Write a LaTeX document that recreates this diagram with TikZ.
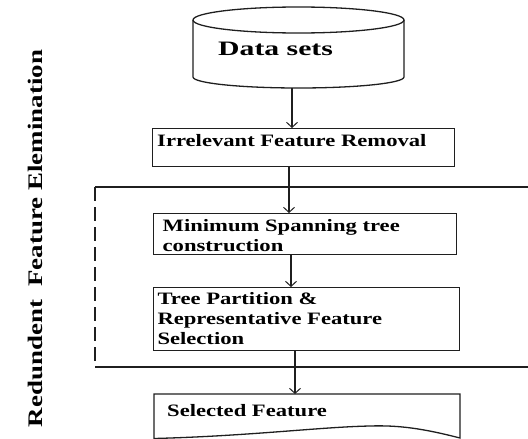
\documentclass[tikz,border=0pt]{standalone}
\usepackage{fontspec}
\usetikzlibrary{arrows.meta}
\newfontfamily\boxfont[FakeStretch=1.3]{Liberation Serif}
\newfontfamily\dbfont[FakeStretch=1.45]{Liberation Serif}
\tikzset{
  ln/.style={line width=1.3pt, draw=black!88},
  box/.style={ln, draw, rectangle, inner sep=0pt, anchor=north west},
  hold/.style={rectangle, inner sep=0pt, anchor=north west},
  arr/.style={line width=1.2pt, draw=black!88,
    -{Straight Barb[length=5pt,width=11pt,line width=1pt]}},
  lbl/.style={anchor=base west, inner sep=0pt, align=left,
    font=\boxfont\bfseries\fontsize{17.4}{19.7}\selectfont},
}
\begin{document}
\begin{tikzpicture}[x=1pt, y=-1pt]
  \useasboundingbox (0,0) rectangle (528,439);

  % data store (cylinder)
  \node[hold, minimum width=211pt, minimum height=81pt] (ds) at (193,7) {};
  \draw[ln] (193,20) -- (193,77)
    arc[start angle=180, end angle=0, x radius=105.5, y radius=11] -- (404,20);
  \draw[ln] (298.5,20) ellipse[x radius=105.5, y radius=13];
  \node[anchor=base west, inner sep=0pt,
        font=\dbfont\bfseries\fontsize{20.5}{24}\selectfont] (dsT) at (218,56) {Data sets};

  % first filtering step
  \node[box, minimum width=302pt, minimum height=38pt] (irr) at (152,128) {};
  \node[lbl] (irrT) at (157,146) {Irrelevant Feature Removal};

  % redundancy elimination frame (open to the right)
  \coordinate (fTL) at (95,187);
  \coordinate (fTR) at (530,187);
  \coordinate (fBL) at (95,367);
  \coordinate (fBR) at (530,367);
  \draw[ln] (fTR) -- (fTL);
  \draw[ln, dash pattern=on 14pt off 6pt] (fTL) -- (fBL);
  \draw[ln] (fBL) -- (fBR);

  % multi-line labels are placed by the baseline of their last line
  \node[box, minimum width=303pt, minimum height=41pt] (mst) at (153,213) {};
  \node[lbl] (mstT) at (162.5,251.5) {Minimum Spanning tree\\construction};

  \node[box, minimum width=306pt, minimum height=63pt] (tp) at (153,287) {};
  \node[lbl] (tpT) at (157.3,344) {Tree Partition \&\\Representative Feature\\Selection};

  % output document
  \node[hold, minimum width=306pt, minimum height=45pt] (sel) at (154,394) {};
  \draw[ln] (154,441) -- (154,394) -- (460,394) -- (460,438)
    .. controls (425,429) and (400,425) .. (370,426)
    .. controls (320,427) and (250,436) .. (154,438.5);
  \node[lbl] (selT) at (167,416.7) {Selected Feature};

  % side caption
  \node[rotate=90, anchor=base, inner sep=0pt,
        font=\boxfont\bfseries\fontsize{20.7}{24}\selectfont] (side) at (42,238.5)
        {Redundent~ Feature Elemination};

  % flow connectors
  \coordinate (c1) at (292,0);
  \coordinate (c2) at (289,0);
  \coordinate (c3) at (291,0);
  \coordinate (c4) at (295,0);
  \draw[arr] (ds.south -| c1) -- (irr.north -| c1);
  \draw[arr] (irr.south -| c2) -- (mst.north -| c2);
  \draw[arr] (mst.south -| c3) -- (tp.north -| c3);
  \draw[arr] (tp.south -| c4) -- (sel.north -| c4);
\end{tikzpicture}
\end{document}
